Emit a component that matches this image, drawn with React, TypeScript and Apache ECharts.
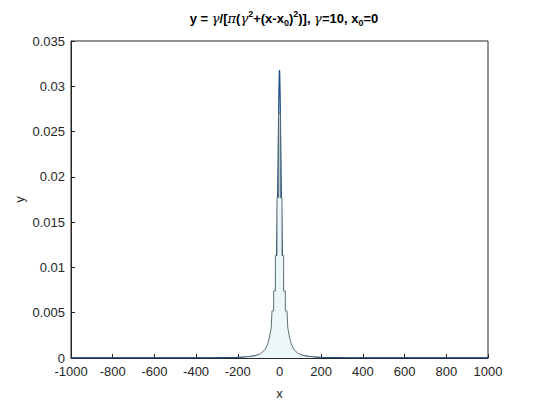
import React, { useEffect, useRef } from "react";
import * as echarts from "echarts";

// Theoretical pdf (blue line)
const pdfX = [-1000, -800, -600, -400, -300, -200, -150, -100, -80, -60, -50, -40, -30, -25, -20, -15, -10, -6, -3, -1, 0, 1, 3, 6, 10, 15, 20, 25, 30, 40, 50, 60, 80, 100, 150, 200, 300, 400, 600, 800, 1000];
const pdfY = [0.000003, 0.000005, 0.000009, 0.00002, 0.000035, 0.00008, 0.00014, 0.00032, 0.00049, 0.00086, 0.00122, 0.00187, 0.00318, 0.0044, 0.0064, 0.0098, 0.0159, 0.0234, 0.0292, 0.0315, 0.0318, 0.0315, 0.0292, 0.0234, 0.0159, 0.0098, 0.0064, 0.0044, 0.00318, 0.00187, 0.00122, 0.00086, 0.00049, 0.00032, 0.00014, 0.00008, 0.000035, 0.00002, 0.000009, 0.000005, 0.000003];

// Histogram bins (edges and heights)
const binEdges = [-180, -160, -140, -120, -100, -80, -70, -60, -52, -44, -36, -28, -20, -12, -4, 4, 12, 20, 28, 36, 44, 52, 60, 70, 80, 100, 120, 140, 160, 180];
const binHeights = [0.0001, 0.00015, 0.0002, 0.0003, 0.0005, 0.0008, 0.0011, 0.0016, 0.0023, 0.0033, 0.0052, 0.0074, 0.0113, 0.0177, 0.027, 0.0177, 0.0113, 0.0074, 0.0052, 0.0033, 0.0023, 0.0016, 0.0011, 0.0008, 0.0005, 0.0003, 0.0002, 0.00015, 0.0001];

const xTicks = { min: -1000, max: 1000, interval: 200 };
const yTicks = { min: 0, max: 0.035, interval: 0.005 };

const FONT = "'Liberation Sans', Arial, Helvetica, sans-serif";
const INK = "#262626";

export default function App() {
  const ref = useRef<HTMLDivElement>(null);
  useEffect(() => {
    document.body.style.margin = "0";
    if (!ref.current) return;
    const chart = echarts.init(ref.current, undefined, { renderer: "svg" });
    const pdfData = pdfX.map((x, i) => [x, pdfY[i]]);
    const histData: number[][] = [[binEdges[0], 0]];
    for (let i = 0; i < binHeights.length; i++) {
      const h = binHeights[i];
      if (h > 0.005) {
        histData.push([binEdges[i], h]);
        histData.push([binEdges[i + 1], h]);
      } else {
        histData.push([(binEdges[i] + binEdges[i + 1]) / 2, h]);
      }
    }
    histData.push([binEdges[binEdges.length - 1], 0]);

    chart.setOption({
      animation: false,
      backgroundColor: "#ffffff",
      textStyle: { fontFamily: FONT },
      title: {
        left: 279,
        textAlign: "center",
        top: 4,
        text: "{b|y = }{g|γ}{b|/[}{g|π}{b|(}{g|γ}{sup|2}{b|+(x-x}{sub|0}{b|)}{sup|2}{b|)], }{g|γ}{b|=10, x}{sub|0}{b|=0}",
        textStyle: {
          rich: {
            b: { fontFamily: FONT, fontWeight: "bold", fontSize: 13, color: "#000" },
            g: { fontFamily: "'DejaVu Serif', serif", fontStyle: "italic", fontWeight: "normal", fontSize: 13, color: "#000" },
            sup: { fontFamily: FONT, fontWeight: "bold", fontSize: 9, color: "#000", padding: [0, 0, 10, 0] },
            sub: { fontFamily: FONT, fontWeight: "bold", fontSize: 9, color: "#000", padding: [8, 0, 0, 0] },
          },
        },
      },
      grid: {
        left: 71,
        right: 52,
        top: 41,
        bottom: 45,
        show: true,
        borderColor: INK,
        borderWidth: 1,
        backgroundColor: "transparent",
      },
      xAxis: {
        type: "value",
        min: xTicks.min,
        max: xTicks.max,
        interval: xTicks.interval,
        name: "x",
        nameLocation: "middle",
        nameGap: 29,
        nameMoveOverlap: false,
        nameTextStyle: { color: INK, fontSize: 13, fontFamily: FONT },
        axisLine: { show: true, onZero: false, lineStyle: { color: INK, width: 1 } },
        axisTick: { show: true, inside: true, length: 4, lineStyle: { color: INK } },
        axisLabel: { color: INK, fontSize: 13, fontFamily: FONT, margin: 7, formatter: (v: number) => String(v) },
        splitLine: { show: false },
      },
      yAxis: {
        type: "value",
        min: yTicks.min,
        max: yTicks.max,
        interval: yTicks.interval,
        name: "y",
        nameLocation: "middle",
        nameGap: 45,
        nameMoveOverlap: false,
        nameRotate: 90,
        nameTextStyle: { color: INK, fontSize: 13, fontFamily: FONT },
        axisLine: { show: true, onZero: false, lineStyle: { color: INK, width: 1 } },
        axisTick: { show: true, inside: true, length: 4, lineStyle: { color: INK } },
        axisLabel: { color: INK, fontSize: 13, fontFamily: FONT, margin: 6, formatter: (v: number) => String(+v.toFixed(4)) },
        splitLine: { show: false },
      },
      series: [
        {
          type: "line",
          data: pdfData,
          showSymbol: false,
          symbol: "none",
          lineStyle: { color: "#1f4f86", width: 1.2 },
          z: 2,
        },
        {
          type: "line",
          data: histData,
          showSymbol: false,
          symbol: "none",
          lineStyle: { color: "#4a6168", width: 0.9 },
          areaStyle: { color: "#eef7f7", opacity: 1 },
          z: 3,
        },
      ],
    });
    return () => chart.dispose();
  }, []);
  return <div ref={ref} style={{ width: 540, height: 405 }} />;
}
